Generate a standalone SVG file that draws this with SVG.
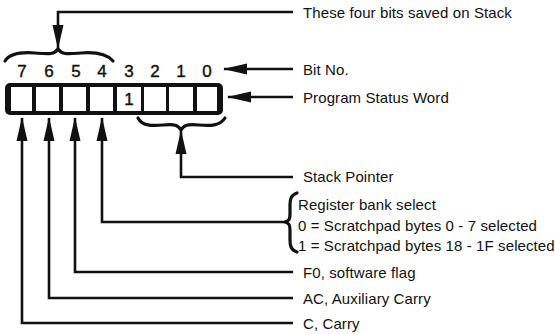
<svg xmlns="http://www.w3.org/2000/svg" width="555" height="334" viewBox="0 0 555 334">
<defs>
<style>
.ln{fill:none;stroke:#111;stroke-width:2.6;stroke-linejoin:miter}
.br{fill:none;stroke:#111;stroke-width:3.2;stroke-linecap:round;stroke-linejoin:round}
.lbl{font-family:"Liberation Sans",Arial,sans-serif;font-size:15px;fill:#111;letter-spacing:0.1px}
.dig{font-family:"Liberation Sans",Arial,sans-serif;font-size:17px;fill:#111;text-anchor:middle;stroke:#111;stroke-width:0.4}
.cell{fill:#fff}
</style>
<marker id="ah" markerUnits="userSpaceOnUse" markerWidth="24" markerHeight="12" viewBox="0 0 24 12" refX="23" refY="6" orient="auto">
<path d="M0,0.5 L24,6 L0,11.5 Z" fill="#111"/>
</marker>
</defs>
<rect width="555" height="334" fill="#fff"/>

<g id="register">
<rect x="5" y="83" width="218" height="32" rx="5" fill="#111"/>
<rect class="cell" x="11" y="87" width="21" height="24"/>
<rect class="cell" x="36" y="87" width="23" height="24"/>
<rect class="cell" x="63" y="87" width="23" height="24"/>
<rect class="cell" x="90" y="87" width="23" height="24"/>
<rect class="cell" x="117" y="87" width="24" height="24"/>
<rect class="cell" x="144" y="87" width="22" height="24"/>
<rect class="cell" x="169" y="87" width="24" height="24"/>
<rect class="cell" x="197" y="87" width="20" height="24"/>
<text class="dig" x="129" y="105" font-size="15">1</text>
</g>

<g id="bitnumbers">
<text class="dig" x="22" y="77">7</text>
<text class="dig" x="49" y="77">6</text>
<text class="dig" x="76" y="77">5</text>
<text class="dig" x="102" y="77">4</text>
<text class="dig" x="129" y="77">3</text>
<text class="dig" x="155" y="77">2</text>
<text class="dig" x="181" y="77">1</text>
<text class="dig" x="207" y="77">0</text>
</g>

<g id="braces">
<path class="br" d="M5,61 C10,53 22,52 35,53 C48,54 54,55 58,49 C62,55 68,54 81,53 C94,52 106,53 113,61"/>
<path class="br" d="M138,118 C142,126 152,126 163,125 C175,124 178,125 181,130 C184,125 187,124 199,125 C210,126 220,126 225,118"/>
<path class="br" d="M297,193 C291,195 290,199 290,205 L290,214 C290,219 289,221 285,222 C289,223 290,225 290,230 L290,240 C290,246 291,250 297,252"/>
</g>

<g id="connectors">
<path class="ln" d="M293,12 L58,12 L58,48" marker-end="url(#ah)"/>
<path class="ln" d="M293,69 L224,69" marker-end="url(#ah)"/>
<path class="ln" d="M293,97 L228,97" marker-end="url(#ah)"/>
<path class="ln" d="M293,177 L181,177 L181,131" marker-end="url(#ah)"/>
<path class="ln" d="M285,222 L102,222 L102,118" marker-end="url(#ah)"/>
<path class="ln" d="M293,272 L75,272 L75,118" marker-end="url(#ah)"/>
<path class="ln" d="M293,298 L49,298 L49,118" marker-end="url(#ah)"/>
<path class="ln" d="M293,323 L22,323 L22,118" marker-end="url(#ah)"/>
</g>

<g id="labels">
<text class="lbl" x="303" y="18">These four bits saved on Stack</text>
<text class="lbl" x="303" y="75">Bit No.</text>
<text class="lbl" x="303" y="103">Program Status Word</text>
<text class="lbl" x="303" y="182">Stack Pointer</text>
<text class="lbl" x="298" y="210">Register bank select</text>
<text class="lbl" x="298" y="231">0 = Scratchpad bytes 0 - 7 selected</text>
<text class="lbl" x="298" y="251">1 = Scratchpad bytes 18 - 1F selected</text>
<text class="lbl" x="303" y="278">F0, software flag</text>
<text class="lbl" x="303" y="304">AC, Auxiliary Carry</text>
<text class="lbl" x="303" y="329">C, Carry</text>
</g>
</svg>
